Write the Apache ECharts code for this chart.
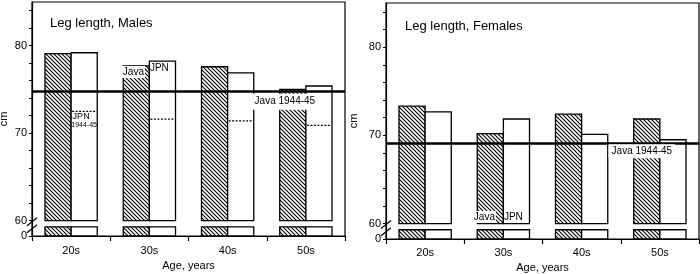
<!DOCTYPE html>
<html>
<head>
<meta charset="utf-8">
<script src="https://cdn.jsdelivr.net/npm/echarts@6/dist/echarts.min.js"></script>
<style>
  html, body { margin: 0; padding: 0; background: #fff; }
  #chart { width: 700px; height: 274px; }
</style>
</head>
<body>
<div id="chart"></div>
<script>
// age groups
const ages = ['20s', '30s', '40s', '50s'];

// males, cm
const maleJava = [79.1, 77.7, 77.6, 75.0];
const maleJpn = [79.2, 78.25, 76.9, 75.4];
const maleJpn1944 = [72.5, 71.6, 71.4, 70.9];
const maleJava1944 = 74.77;

// females, cm
const femaleJava = [73.3, 70.2, 72.4, 71.85];
const femaleJpn = [72.65, 71.85, 70.1, 69.5];
const femaleJava1944 = 69.14;

// y axis: broken between 0 and 60
const yMin = 58.25;      // where "0" sits under the break
const stubTop = 59.3;    // top of the short piece below the break
const breakTop = 60;
const yMax = 85;
const yTicks = [58.25, 60, 62, 64, 66, 68, 70, 72, 74, 76, 78, 80, 82, 84];
const yLabels = [58.25, 60, 70, 80];

// notes written in the panels
const maleNoteText = ['Java', 'JPN', 'JPN', '1944-45', 'Java 1944-45'];
const maleNoteAt = [[1, 77.0], [1, 77.4], [0, 71.9], [0, 70.95], [3, 73.6]];
const femaleNoteText = ['Java', 'JPN', 'Java 1944-45'];
const femaleNoteAt = [[1, 60.75], [1, 60.75], [3, 68.2]];

const FONT = 'Liberation Sans, Arial, Helvetica, sans-serif';

// hatch pattern for the Java bars
function makeHatch() {
  const c = document.createElement('canvas');
  c.width = 4; c.height = 4;
  const ctx = c.getContext('2d');
  ctx.fillStyle = '#fff';
  ctx.fillRect(0, 0, 4, 4);
  ctx.strokeStyle = '#000';
  ctx.lineWidth = 1.1;
  ctx.beginPath();
  ctx.moveTo(-1, -1); ctx.lineTo(5, 5);
  ctx.moveTo(-1, 3); ctx.lineTo(1, 5);
  ctx.moveTo(3, -1); ctx.lineTo(5, 1);
  ctx.stroke();
  return c;
}
const hatch = { image: makeHatch(), repeat: 'repeat' };

// bar drawn in two pieces: value..60 and the stub under the break
const barRender = (side, fill) => (params, api) => {
  const i = api.value(0);
  const top = api.coord([i, api.value(1)]);
  const y60 = api.coord([i, breakTop])[1];
  const yStub = api.coord([i, stubTop])[1];
  const y0 = api.coord([i, yMin])[1];
  const bw = api.size([1, 0])[0] * 0.334;
  const x0 = side < 0 ? top[0] - bw : top[0];
  const style = { fill, stroke: '#000', lineWidth: 1.3 };
  const children = [
    { type: 'rect', shape: { x: x0, y: top[1], width: bw, height: y60 - top[1] }, style },
    { type: 'rect', shape: { x: x0, y: yStub, width: bw, height: y0 - yStub }, style }
  ];
  const d = api.value(2);
  if (d != null && !isNaN(d)) {
    const yd = api.coord([i, d])[1];
    children.push({
      type: 'line',
      shape: { x1: x0 + 1, y1: yd, x2: x0 + bw - 1, y2: yd },
      style: { stroke: '#000', lineWidth: 1.2, lineDash: [2, 1.5] }
    });
  }
  return { type: 'group', children };
};

const barData = (vals, extra) => vals.map((v, i) => extra ? [i, v, extra[i]] : [i, v]);

// label look per note (offset from category centre, px)
const maleNoteStyle = [
  { dx: -16, size: 10, bg: '#fff' },
  { dx: 10, size: 10 },
  { dx: 10, size: 9 },
  { dx: 13, size: 7 },
  { dx: -21, size: 10, bg: '#fff', pad: [3, 3, 3, 3] }
];
const femaleNoteStyle = [
  { dx: -19, size: 10, bg: '#fff' },
  { dx: 10, size: 10 },
  { dx: -18, size: 10, bg: '#fff', pad: [2, 3, 2, 3] }
];

function noteData(texts, at, looks) {
  return texts.map((t, k) => ({
    value: at[k],
    name: t,
    label: {
      offset: [looks[k].dx, 0],
      fontSize: looks[k].size,
      backgroundColor: looks[k].bg || 'transparent',
      padding: looks[k].pad || [1, 1, 1, 1]
    }
  }));
}

const grids = [
  { left: 32, top: 2, right: 355, bottom: 38 },
  { left: 386, top: 3, right: 1, bottom: 35 }
];

const xAxisBase = (gi, margin, nameGap) => ({
  type: 'category',
  gridIndex: gi,
  data: ages,
  axisLine: { lineStyle: { color: '#000', width: 1.2 } },
  axisTick: { show: true, inside: false, length: 5, lineStyle: { color: '#000', width: 1.2 } },
  axisLabel: { color: '#000', fontSize: 11, fontFamily: FONT, margin },
  name: 'Age, years',
  nameLocation: 'middle',
  nameGap,
  nameTextStyle: { color: '#000', fontSize: 11, fontFamily: FONT },
  splitLine: { show: false }
});

const yAxisBase = (gi, nameGap) => ({
  type: 'value',
  gridIndex: gi,
  min: yMin,
  max: yMax,
  axisLine: { show: true, lineStyle: { color: '#000', width: 1.2 } },
  axisTick: { show: true, inside: false, length: 3, customValues: yTicks, lineStyle: { color: '#000', width: 1 } },
  axisLabel: {
    color: '#000', fontSize: 11, fontFamily: FONT, margin: 5,
    customValues: yLabels,
    formatter: (v) => (v < 59 ? '0' : String(v))
  },
  splitLine: { show: false },
  name: 'cm',
  nameLocation: 'middle',
  nameGap,
  nameRotate: 90,
  nameTextStyle: { color: '#000', fontSize: 11, fontFamily: FONT }
});

const noteSeries = (gi, texts, at, looks, refLine) => ({
  type: 'scatter',
  xAxisIndex: gi,
  yAxisIndex: gi,
  symbolSize: 1,
  itemStyle: { color: 'rgba(0,0,0,0)', opacity: 1 },
  z: 5,
  label: {
    show: true,
    position: 'inside',
    color: '#000',
    opacity: 1,
    fontFamily: FONT,
    formatter: (p) => p.name
  },
  emphasis: { disabled: true },
  data: noteData(texts, at, looks),
  markLine: {
    silent: true,
    symbol: 'none',
    label: { show: false },
    lineStyle: { color: '#000', width: 2.5, type: 'solid', opacity: 1 },
    data: [{ yAxis: refLine }],
    z: 4
  }
});

const option = {
  animation: false,
  backgroundColor: '#fff',
  title: [
    { text: 'Leg length, Males', left: 45, top: 12, textStyle: { color: '#000', fontSize: 13, fontWeight: 'normal', fontFamily: FONT } },
    { text: 'Leg length, Females', left: 400, top: 15, textStyle: { color: '#000', fontSize: 13, fontWeight: 'normal', fontFamily: FONT } }
  ],
  grid: grids.map((g) => Object.assign({
    show: true, borderColor: '#000', borderWidth: 1.2, backgroundColor: 'transparent',
    containLabel: false, outerBoundsMode: 'none'
  }, g)),
  xAxis: [xAxisBase(0, 9, 23), xAxisBase(1, 8, 22)],
  yAxis: [yAxisBase(0, 23), yAxisBase(1, 27)],
  series: [
    { type: 'custom', xAxisIndex: 0, yAxisIndex: 0, renderItem: barRender(-1, hatch), encode: { x: 0, y: 1 }, data: barData(maleJava), z: 2 },
    { type: 'custom', xAxisIndex: 0, yAxisIndex: 0, renderItem: barRender(1, '#fff'), encode: { x: 0, y: 1 }, data: barData(maleJpn, maleJpn1944), z: 2 },
    { type: 'custom', xAxisIndex: 1, yAxisIndex: 1, renderItem: barRender(-1, hatch), encode: { x: 0, y: 1 }, data: barData(femaleJava), z: 2 },
    { type: 'custom', xAxisIndex: 1, yAxisIndex: 1, renderItem: barRender(1, '#fff'), encode: { x: 0, y: 1 }, data: barData(femaleJpn), z: 2 },
    noteSeries(0, maleNoteText, maleNoteAt, maleNoteStyle, maleJava1944),
    noteSeries(1, femaleNoteText, femaleNoteAt, femaleNoteStyle, femaleJava1944)
  ]
};

const chart = echarts.init(document.getElementById('chart'), null, { renderer: 'canvas' });
chart.setOption(option);

// "//" break marks across each y axis
const marks = [];
grids.forEach((g, gi) => {
  const ax = g.left;
  const ya = chart.convertToPixel({ yAxisIndex: gi }, breakTop) + 1;
  const yb = chart.convertToPixel({ yAxisIndex: gi }, stubTop) + 2;
  [ya, yb].forEach((yc) => {
    marks.push({
      type: 'line',
      shape: { x1: ax - 5, y1: yc + 4, x2: ax + 5, y2: yc - 4 },
      style: { stroke: '#000', lineWidth: 1.2 },
      z: 10
    });
  });
});
chart.setOption({ graphic: marks });
</script>
</body>
</html>
